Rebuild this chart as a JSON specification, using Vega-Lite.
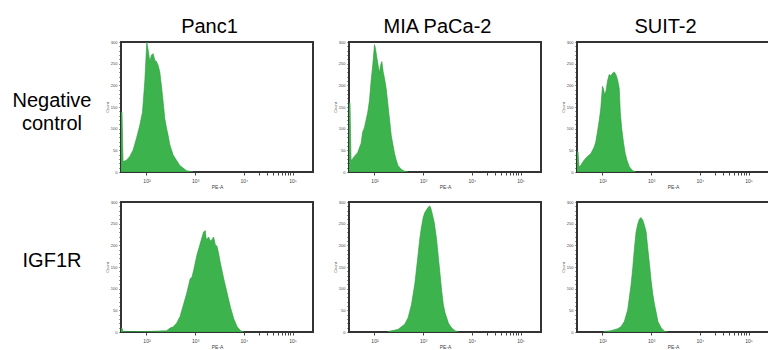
{
  "$schema": "https://vega.github.io/schema/vega-lite/v6.json",
  "background": "white",
  "padding": {"left": 7, "top": 17, "right": 0, "bottom": 0},
  "data": {"values": [
    {"line": "Panc1", "stain": "Negative control", "fl": 30, "events": 138},
    {"line": "Panc1", "stain": "Negative control", "fl": 31.5, "events": 138},
    {"line": "Panc1", "stain": "Negative control", "fl": 33, "events": 24},
    {"line": "Panc1", "stain": "Negative control", "fl": 38.8, "events": 27},
    {"line": "Panc1", "stain": "Negative control", "fl": 45.5, "events": 36},
    {"line": "Panc1", "stain": "Negative control", "fl": 53.2, "events": 51},
    {"line": "Panc1", "stain": "Negative control", "fl": 62.4, "events": 78},
    {"line": "Panc1", "stain": "Negative control", "fl": 73.0, "events": 108},
    {"line": "Panc1", "stain": "Negative control", "fl": 82.8, "events": 138},
    {"line": "Panc1", "stain": "Negative control", "fl": 92.5, "events": 210},
    {"line": "Panc1", "stain": "Negative control", "fl": 96.9, "events": 255},
    {"line": "Panc1", "stain": "Negative control", "fl": 101.6, "events": 300},
    {"line": "Panc1", "stain": "Negative control", "fl": 108.2, "events": 282},
    {"line": "Panc1", "stain": "Negative control", "fl": 117.1, "events": 255},
    {"line": "Panc1", "stain": "Negative control", "fl": 126.7, "events": 270},
    {"line": "Panc1", "stain": "Negative control", "fl": 137.1, "events": 273},
    {"line": "Panc1", "stain": "Negative control", "fl": 148.3, "events": 258},
    {"line": "Panc1", "stain": "Negative control", "fl": 160.4, "events": 255},
    {"line": "Panc1", "stain": "Negative control", "fl": 173.6, "events": 246},
    {"line": "Panc1", "stain": "Negative control", "fl": 187.8, "events": 231},
    {"line": "Panc1", "stain": "Negative control", "fl": 203.2, "events": 198},
    {"line": "Panc1", "stain": "Negative control", "fl": 219.9, "events": 162},
    {"line": "Panc1", "stain": "Negative control", "fl": 238.1, "events": 123},
    {"line": "Panc1", "stain": "Negative control", "fl": 257.6, "events": 102},
    {"line": "Panc1", "stain": "Negative control", "fl": 278.7, "events": 84},
    {"line": "Panc1", "stain": "Negative control", "fl": 301.5, "events": 63},
    {"line": "Panc1", "stain": "Negative control", "fl": 353.2, "events": 39},
    {"line": "Panc1", "stain": "Negative control", "fl": 413.3, "events": 27},
    {"line": "Panc1", "stain": "Negative control", "fl": 484.0, "events": 15},
    {"line": "Panc1", "stain": "Negative control", "fl": 566.2, "events": 9},
    {"line": "Panc1", "stain": "Negative control", "fl": 663.3, "events": 3},
    {"line": "Panc1", "stain": "Negative control", "fl": 776.2, "events": 1.5},
    {"line": "Panc1", "stain": "Negative control", "fl": 909.9, "events": 0},

    {"line": "MIA PaCa-2", "stain": "Negative control", "fl": 30, "events": 159},
    {"line": "MIA PaCa-2", "stain": "Negative control", "fl": 31.5, "events": 159},
    {"line": "MIA PaCa-2", "stain": "Negative control", "fl": 33, "events": 27},
    {"line": "MIA PaCa-2", "stain": "Negative control", "fl": 35.6, "events": 30},
    {"line": "MIA PaCa-2", "stain": "Negative control", "fl": 38.6, "events": 36},
    {"line": "MIA PaCa-2", "stain": "Negative control", "fl": 45.2, "events": 45},
    {"line": "MIA PaCa-2", "stain": "Negative control", "fl": 53.0, "events": 66},
    {"line": "MIA PaCa-2", "stain": "Negative control", "fl": 57.4, "events": 93},
    {"line": "MIA PaCa-2", "stain": "Negative control", "fl": 62.1, "events": 102},
    {"line": "MIA PaCa-2", "stain": "Negative control", "fl": 67.3, "events": 120},
    {"line": "MIA PaCa-2", "stain": "Negative control", "fl": 72.8, "events": 138},
    {"line": "MIA PaCa-2", "stain": "Negative control", "fl": 78.9, "events": 165},
    {"line": "MIA PaCa-2", "stain": "Negative control", "fl": 85.3, "events": 210},
    {"line": "MIA PaCa-2", "stain": "Negative control", "fl": 92.4, "events": 248},
    {"line": "MIA PaCa-2", "stain": "Negative control", "fl": 100, "events": 294},
    {"line": "MIA PaCa-2", "stain": "Negative control", "fl": 104.9, "events": 285},
    {"line": "MIA PaCa-2", "stain": "Negative control", "fl": 111.7, "events": 264},
    {"line": "MIA PaCa-2", "stain": "Negative control", "fl": 119.1, "events": 246},
    {"line": "MIA PaCa-2", "stain": "Negative control", "fl": 126.9, "events": 228},
    {"line": "MIA PaCa-2", "stain": "Negative control", "fl": 133.0, "events": 246},
    {"line": "MIA PaCa-2", "stain": "Negative control", "fl": 141.8, "events": 255},
    {"line": "MIA PaCa-2", "stain": "Negative control", "fl": 151.1, "events": 231},
    {"line": "MIA PaCa-2", "stain": "Negative control", "fl": 161.0, "events": 216},
    {"line": "MIA PaCa-2", "stain": "Negative control", "fl": 174.2, "events": 192},
    {"line": "MIA PaCa-2", "stain": "Negative control", "fl": 188.7, "events": 156},
    {"line": "MIA PaCa-2", "stain": "Negative control", "fl": 204.3, "events": 120},
    {"line": "MIA PaCa-2", "stain": "Negative control", "fl": 221.3, "events": 84},
    {"line": "MIA PaCa-2", "stain": "Negative control", "fl": 239.4, "events": 63},
    {"line": "MIA PaCa-2", "stain": "Negative control", "fl": 259.2, "events": 42},
    {"line": "MIA PaCa-2", "stain": "Negative control", "fl": 280.6, "events": 27},
    {"line": "MIA PaCa-2", "stain": "Negative control", "fl": 303.9, "events": 15},
    {"line": "MIA PaCa-2", "stain": "Negative control", "fl": 356.4, "events": 6},
    {"line": "MIA PaCa-2", "stain": "Negative control", "fl": 417.9, "events": 1.5},
    {"line": "MIA PaCa-2", "stain": "Negative control", "fl": 489.8, "events": 0},

    {"line": "SUIT-2", "stain": "Negative control", "fl": 30, "events": 47},
    {"line": "SUIT-2", "stain": "Negative control", "fl": 31.5, "events": 47},
    {"line": "SUIT-2", "stain": "Negative control", "fl": 33, "events": 12},
    {"line": "SUIT-2", "stain": "Negative control", "fl": 35.6, "events": 15},
    {"line": "SUIT-2", "stain": "Negative control", "fl": 41.8, "events": 27},
    {"line": "SUIT-2", "stain": "Negative control", "fl": 48.9, "events": 36},
    {"line": "SUIT-2", "stain": "Negative control", "fl": 57.4, "events": 42},
    {"line": "SUIT-2", "stain": "Negative control", "fl": 67.3, "events": 57},
    {"line": "SUIT-2", "stain": "Negative control", "fl": 72.8, "events": 69},
    {"line": "SUIT-2", "stain": "Negative control", "fl": 78.9, "events": 93},
    {"line": "SUIT-2", "stain": "Negative control", "fl": 85.3, "events": 117},
    {"line": "SUIT-2", "stain": "Negative control", "fl": 92.4, "events": 147},
    {"line": "SUIT-2", "stain": "Negative control", "fl": 100, "events": 198},
    {"line": "SUIT-2", "stain": "Negative control", "fl": 104.9, "events": 192},
    {"line": "SUIT-2", "stain": "Negative control", "fl": 111.7, "events": 177},
    {"line": "SUIT-2", "stain": "Negative control", "fl": 119.1, "events": 189},
    {"line": "SUIT-2", "stain": "Negative control", "fl": 126.9, "events": 210},
    {"line": "SUIT-2", "stain": "Negative control", "fl": 137.3, "events": 225},
    {"line": "SUIT-2", "stain": "Negative control", "fl": 148.6, "events": 222},
    {"line": "SUIT-2", "stain": "Negative control", "fl": 161.0, "events": 228},
    {"line": "SUIT-2", "stain": "Negative control", "fl": 174.2, "events": 231},
    {"line": "SUIT-2", "stain": "Negative control", "fl": 188.7, "events": 225},
    {"line": "SUIT-2", "stain": "Negative control", "fl": 204.3, "events": 213},
    {"line": "SUIT-2", "stain": "Negative control", "fl": 221.3, "events": 192},
    {"line": "SUIT-2", "stain": "Negative control", "fl": 232.3, "events": 138},
    {"line": "SUIT-2", "stain": "Negative control", "fl": 247.4, "events": 102},
    {"line": "SUIT-2", "stain": "Negative control", "fl": 271.8, "events": 66},
    {"line": "SUIT-2", "stain": "Negative control", "fl": 294.3, "events": 42},
    {"line": "SUIT-2", "stain": "Negative control", "fl": 318.5, "events": 27},
    {"line": "SUIT-2", "stain": "Negative control", "fl": 356.4, "events": 12},
    {"line": "SUIT-2", "stain": "Negative control", "fl": 417.9, "events": 3},
    {"line": "SUIT-2", "stain": "Negative control", "fl": 489.8, "events": 0},

    {"line": "Panc1", "stain": "IGF1R", "fl": 30, "events": 9},
    {"line": "Panc1", "stain": "IGF1R", "fl": 31.5, "events": 9},
    {"line": "Panc1", "stain": "IGF1R", "fl": 33, "events": 1},
    {"line": "Panc1", "stain": "IGF1R", "fl": 40, "events": 0.5},
    {"line": "Panc1", "stain": "IGF1R", "fl": 126.9, "events": 1.5},
    {"line": "Panc1", "stain": "IGF1R", "fl": 259.2, "events": 3},
    {"line": "Panc1", "stain": "IGF1R", "fl": 303.9, "events": 9},
    {"line": "Panc1", "stain": "IGF1R", "fl": 356.4, "events": 12},
    {"line": "Panc1", "stain": "IGF1R", "fl": 417.9, "events": 21},
    {"line": "Panc1", "stain": "IGF1R", "fl": 489.8, "events": 36},
    {"line": "Panc1", "stain": "IGF1R", "fl": 574.1, "events": 63},
    {"line": "Panc1", "stain": "IGF1R", "fl": 672.9, "events": 90},
    {"line": "Panc1", "stain": "IGF1R", "fl": 788.4, "events": 123},
    {"line": "Panc1", "stain": "IGF1R", "fl": 853.1, "events": 126},
    {"line": "Panc1", "stain": "IGF1R", "fl": 924.0, "events": 141},
    {"line": "Panc1", "stain": "IGF1R", "fl": 1081, "events": 177},
    {"line": "Panc1", "stain": "IGF1R", "fl": 1268, "events": 204},
    {"line": "Panc1", "stain": "IGF1R", "fl": 1486, "events": 231},
    {"line": "Panc1", "stain": "IGF1R", "fl": 1610, "events": 234},
    {"line": "Panc1", "stain": "IGF1R", "fl": 1690, "events": 213},
    {"line": "Panc1", "stain": "IGF1R", "fl": 1888, "events": 219},
    {"line": "Panc1", "stain": "IGF1R", "fl": 2042, "events": 210},
    {"line": "Panc1", "stain": "IGF1R", "fl": 2213, "events": 213},
    {"line": "Panc1", "stain": "IGF1R", "fl": 2393, "events": 219},
    {"line": "Panc1", "stain": "IGF1R", "fl": 2594, "events": 201},
    {"line": "Panc1", "stain": "IGF1R", "fl": 2806, "events": 198},
    {"line": "Panc1", "stain": "IGF1R", "fl": 3041, "events": 180},
    {"line": "Panc1", "stain": "IGF1R", "fl": 3289, "events": 159},
    {"line": "Panc1", "stain": "IGF1R", "fl": 3855, "events": 123},
    {"line": "Panc1", "stain": "IGF1R", "fl": 4519, "events": 90},
    {"line": "Panc1", "stain": "IGF1R", "fl": 5297, "events": 57},
    {"line": "Panc1", "stain": "IGF1R", "fl": 6209, "events": 30},
    {"line": "Panc1", "stain": "IGF1R", "fl": 7278, "events": 12},
    {"line": "Panc1", "stain": "IGF1R", "fl": 8531, "events": 3},
    {"line": "Panc1", "stain": "IGF1R", "fl": 10000, "events": 0},

    {"line": "MIA PaCa-2", "stain": "IGF1R", "fl": 188.7, "events": 1},
    {"line": "MIA PaCa-2", "stain": "IGF1R", "fl": 303.9, "events": 6},
    {"line": "MIA PaCa-2", "stain": "IGF1R", "fl": 356.4, "events": 12},
    {"line": "MIA PaCa-2", "stain": "IGF1R", "fl": 417.9, "events": 18},
    {"line": "MIA PaCa-2", "stain": "IGF1R", "fl": 489.8, "events": 33},
    {"line": "MIA PaCa-2", "stain": "IGF1R", "fl": 574.1, "events": 63},
    {"line": "MIA PaCa-2", "stain": "IGF1R", "fl": 672.9, "events": 111},
    {"line": "MIA PaCa-2", "stain": "IGF1R", "fl": 788.4, "events": 180},
    {"line": "MIA PaCa-2", "stain": "IGF1R", "fl": 853.1, "events": 216},
    {"line": "MIA PaCa-2", "stain": "IGF1R", "fl": 924.0, "events": 243},
    {"line": "MIA PaCa-2", "stain": "IGF1R", "fl": 1000, "events": 264},
    {"line": "MIA PaCa-2", "stain": "IGF1R", "fl": 1081, "events": 276},
    {"line": "MIA PaCa-2", "stain": "IGF1R", "fl": 1172, "events": 282},
    {"line": "MIA PaCa-2", "stain": "IGF1R", "fl": 1268, "events": 288},
    {"line": "MIA PaCa-2", "stain": "IGF1R", "fl": 1374, "events": 291},
    {"line": "MIA PaCa-2", "stain": "IGF1R", "fl": 1441, "events": 285},
    {"line": "MIA PaCa-2", "stain": "IGF1R", "fl": 1536, "events": 273},
    {"line": "MIA PaCa-2", "stain": "IGF1R", "fl": 1690, "events": 252},
    {"line": "MIA PaCa-2", "stain": "IGF1R", "fl": 1888, "events": 213},
    {"line": "MIA PaCa-2", "stain": "IGF1R", "fl": 2042, "events": 174},
    {"line": "MIA PaCa-2", "stain": "IGF1R", "fl": 2213, "events": 135},
    {"line": "MIA PaCa-2", "stain": "IGF1R", "fl": 2393, "events": 96},
    {"line": "MIA PaCa-2", "stain": "IGF1R", "fl": 2594, "events": 63},
    {"line": "MIA PaCa-2", "stain": "IGF1R", "fl": 2806, "events": 45},
    {"line": "MIA PaCa-2", "stain": "IGF1R", "fl": 3289, "events": 21},
    {"line": "MIA PaCa-2", "stain": "IGF1R", "fl": 3855, "events": 9},
    {"line": "MIA PaCa-2", "stain": "IGF1R", "fl": 4519, "events": 3},
    {"line": "MIA PaCa-2", "stain": "IGF1R", "fl": 5297, "events": 0},

    {"line": "SUIT-2", "stain": "IGF1R", "fl": 108.2, "events": 1},
    {"line": "SUIT-2", "stain": "IGF1R", "fl": 148.6, "events": 3},
    {"line": "SUIT-2", "stain": "IGF1R", "fl": 204.3, "events": 7.5},
    {"line": "SUIT-2", "stain": "IGF1R", "fl": 239.4, "events": 12},
    {"line": "SUIT-2", "stain": "IGF1R", "fl": 280.6, "events": 24},
    {"line": "SUIT-2", "stain": "IGF1R", "fl": 328.9, "events": 51},
    {"line": "SUIT-2", "stain": "IGF1R", "fl": 385.5, "events": 108},
    {"line": "SUIT-2", "stain": "IGF1R", "fl": 417.9, "events": 147},
    {"line": "SUIT-2", "stain": "IGF1R", "fl": 451.9, "events": 192},
    {"line": "SUIT-2", "stain": "IGF1R", "fl": 489.8, "events": 231},
    {"line": "SUIT-2", "stain": "IGF1R", "fl": 529.7, "events": 249},
    {"line": "SUIT-2", "stain": "IGF1R", "fl": 574.1, "events": 261},
    {"line": "SUIT-2", "stain": "IGF1R", "fl": 620.9, "events": 264},
    {"line": "SUIT-2", "stain": "IGF1R", "fl": 672.9, "events": 258},
    {"line": "SUIT-2", "stain": "IGF1R", "fl": 727.8, "events": 246},
    {"line": "SUIT-2", "stain": "IGF1R", "fl": 788.4, "events": 231},
    {"line": "SUIT-2", "stain": "IGF1R", "fl": 853.1, "events": 192},
    {"line": "SUIT-2", "stain": "IGF1R", "fl": 924.0, "events": 156},
    {"line": "SUIT-2", "stain": "IGF1R", "fl": 1000, "events": 117},
    {"line": "SUIT-2", "stain": "IGF1R", "fl": 1081, "events": 87},
    {"line": "SUIT-2", "stain": "IGF1R", "fl": 1172, "events": 63},
    {"line": "SUIT-2", "stain": "IGF1R", "fl": 1268, "events": 45},
    {"line": "SUIT-2", "stain": "IGF1R", "fl": 1374, "events": 24},
    {"line": "SUIT-2", "stain": "IGF1R", "fl": 1610, "events": 9},
    {"line": "SUIT-2", "stain": "IGF1R", "fl": 1888, "events": 1.5},
    {"line": "SUIT-2", "stain": "IGF1R", "fl": 2213, "events": 0}
  ]},
  "facet": {
    "column": {"field": "line", "type": "nominal", "sort": ["Panc1", "MIA PaCa-2", "SUIT-2"], "title": null,
      "header": {"labelFontSize": 20, "labelFont": "Liberation Sans", "labelColor": "black", "labelPadding": 5,
        "labelExpr": "datum.value + '\u2800'"}},
    "row": {"field": "stain", "type": "nominal", "sort": ["Negative control", "IGF1R"], "title": null,
      "header": {"labelFontSize": 20, "labelFont": "Liberation Sans", "labelColor": "black", "labelAngle": 0, "labelAlign": "center", "labelBaseline": "alphabetic", "labelLineHeight": 23, "labelPadding": -21,
        "labelExpr": "datum.value == 'Negative control' ? ['Negative', 'control', '\u2800\u2800\u2800\u2800\u2800\u2800'] : [datum.value, '\u2800\u2800\u2800\u2800\u2800\u2800']"}}
  },
  "spacing": {"column": 36, "row": 30},
  "bounds": "flush",
  "resolve": {"axis": {"x": "independent", "y": "independent"}},
  "spec": {
    "width": 192,
    "height": 130,
    "mark": {"type": "area", "fill": "#3cb34c", "stroke": "#2c9a3c", "strokeWidth": 0.6, "clip": true},
    "encoding": {
      "x": {"field": "fl", "type": "quantitative", "sort": "ascending", "scale": {"type": "log", "domain": [30, 262144], "nice": false},
        "axis": {"title": "PE-A", "titleFontSize": 5, "titleFont": "Liberation Sans", "titleFontWeight": "normal", "titlePadding": 1, "titleColor": "#444",
          "values": [100, 1000, 10000, 20000, 30000, 40000, 50000, 60000, 70000, 80000, 90000, 100000],
          "labelExpr": "datum.value == 100 ? '10²' : datum.value == 1000 ? '10³' : datum.value == 10000 ? '10⁴' : datum.value == 100000 ? '10⁵' : ''",
          "labelFontSize": 5, "labelColor": "#444", "labelOverlap": false, "labelPadding": 3, "tickSize": 3, "tickColor": "#444", "domain": false, "grid": false}},
      "y": {"field": "events", "type": "quantitative", "stack": null, "scale": {"domain": [0, 300], "nice": false},
        "axis": {"title": "Count", "titleFontSize": 4, "titleFont": "Liberation Sans", "titleFontWeight": "normal", "titlePadding": 1, "titleColor": "#555",
          "values": [0,10,20,30,40,50,60,70,80,90,100,110,120,130,140,150,160,170,180,190,200,210,220,230,240,250,260,270,280,290,300],
          "labelExpr": "datum.value % 50 == 0 ? datum.value : ''",
          "labelFontSize": 4, "labelColor": "#444", "labelOverlap": false, "labelPadding": 2, "tickSize": 2, "tickColor": "#333", "domain": false, "grid": false}}
    }
  },
  "config": {
    "view": {"stroke": "#333", "strokeWidth": 2},
    "font": "Liberation Sans"
  }
}
